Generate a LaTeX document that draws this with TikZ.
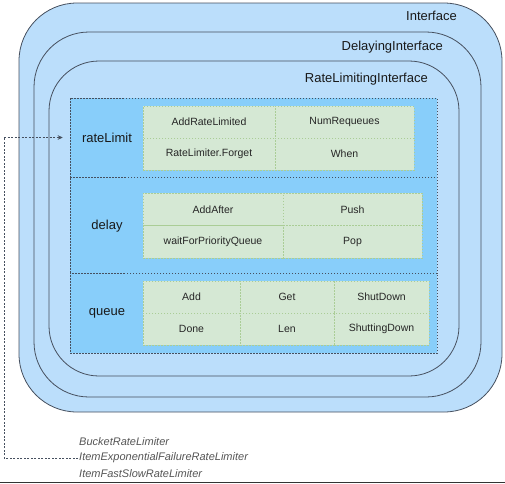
\documentclass[tikz,border=0pt]{standalone}
\usepackage{fontspec}
\setmainfont{Liberation Sans}
\usetikzlibrary{arrows.meta}
\definecolor{ifblue}{RGB}{187,222,251}
\definecolor{panelblue}{RGB}{136,206,250}
\definecolor{cellgreen}{RGB}{213,232,212}
\definecolor{cellline}{RGB}{170,205,150}
\definecolor{boxline}{RGB}{70,80,95}
\definecolor{txtgray}{RGB}{85,85,85}
\begin{document}
\begin{tikzpicture}[x=1pt,y=-1pt,
  ifbox/.style={draw=boxline,line width=0.8pt,fill=ifblue},
  iflabel/.style={anchor=east,inner sep=0pt,font=\fontsize{13}{15}\selectfont,text=black!90},
  section/.style={draw=boxline,dash pattern=on 1.5pt off 1.5pt,line width=0.5pt,fill=panelblue,inner sep=0pt},
  seclabel/.style={inner sep=0pt,font=\fontsize{13}{15}\selectfont,text=black!90},
  cell/.style={draw=cellline,dash pattern=on 1.5pt off 1.5pt,line width=0.5pt,fill=cellgreen,inner sep=0pt,font=\fontsize{10.5}{12}\selectfont,text=black!85},
  impl/.style={anchor=west,inner sep=1pt,font=\fontsize{11}{13}\selectfont\itshape,text=txtgray},
  link/.style={draw=boxline,dash pattern=on 2pt off 1.5pt,line width=0.5pt}
]
\useasboundingbox (0,0) rectangle (505,483);
% nested interfaces
\draw[ifbox,rounded corners=58] (19,3) rectangle (502,412);
\draw[ifbox,rounded corners=55] (34,32) rectangle (481,397);
\draw[ifbox,rounded corners=50] (49,61) rectangle (459,376);
\node[iflabel] (lif) at (457,16) {Interface};
\node[iflabel] (ldi) at (443,47) {DelayingInterface};
\node[iflabel] (lri) at (428,79) {RateLimitingInterface};
% sections
\node[section,minimum width=367,minimum height=79] (rl) at (253.5,137.5) {};
\node[section,minimum width=367,minimum height=96] (dl) at (253.5,225) {};
\node[section,minimum width=367,minimum height=80] (qu) at (253.5,313) {};
\node[seclabel] (rlt) at (107,138) {rateLimit};
\node[seclabel] (dlt) at (107,226) {delay};
\node[seclabel] (qut) at (107,313) {queue};
% rateLimit cells
\node[cell,minimum width=132,minimum height=32] (c11) at (209,122) {AddRateLimited};
\node[cell,minimum width=139,minimum height=32] (c12) at (344.5,122) {NumRequeues};
\node[cell,minimum width=132,minimum height=32] (c13) at (209,154) {RateLimiter.Forget};
\node[cell,minimum width=139,minimum height=32] (c14) at (344.5,154) {When};
% delay cells
\node[cell,minimum width=140,minimum height=32.5] (d11) at (213,209.25) {AddAfter};
\node[cell,minimum width=139,minimum height=32.5] (d12) at (352.5,209.25) {Push};
\node[cell,minimum width=140,minimum height=32.5] (d13) at (213,241.75) {waitForPriorityQueue};
\node[cell,minimum width=139,minimum height=32.5] (d14) at (352.5,241.75) {Pop};
% queue cells
\node[cell,minimum width=97,minimum height=32] (q11) at (191.5,297) {Add};
\node[cell,minimum width=94,minimum height=32] (q12) at (287,297) {Get};
\node[cell,minimum width=95,minimum height=32] (q13) at (381.5,297) {ShutDown};
\node[cell,minimum width=97,minimum height=32] (q21) at (191.5,329) {Done};
\node[cell,minimum width=94,minimum height=32] (q22) at (287,329) {Len};
\node[cell,minimum width=95,minimum height=32] (q23) at (381.5,329) {ShuttingDown};
% rate limiter implementations
\node[impl] (br) at (78,442) {BucketRateLimiter};
\node[impl] (ie) at (78,458) {ItemExponentialFailureRateLimiter};
\node[impl] (fs) at (78,474) {ItemFastSlowRateLimiter};
\coordinate (bend) at (4,137.5);
\draw[link] (ie.west) -| (bend);
\draw[link,-{Stealth[length=5pt,width=4.5pt]},shorten >=7pt] (bend) -- (rl.west);
% bottom rule
\fill[black!80] (0,481.5) rectangle (505,483);
\end{tikzpicture}
\end{document}
